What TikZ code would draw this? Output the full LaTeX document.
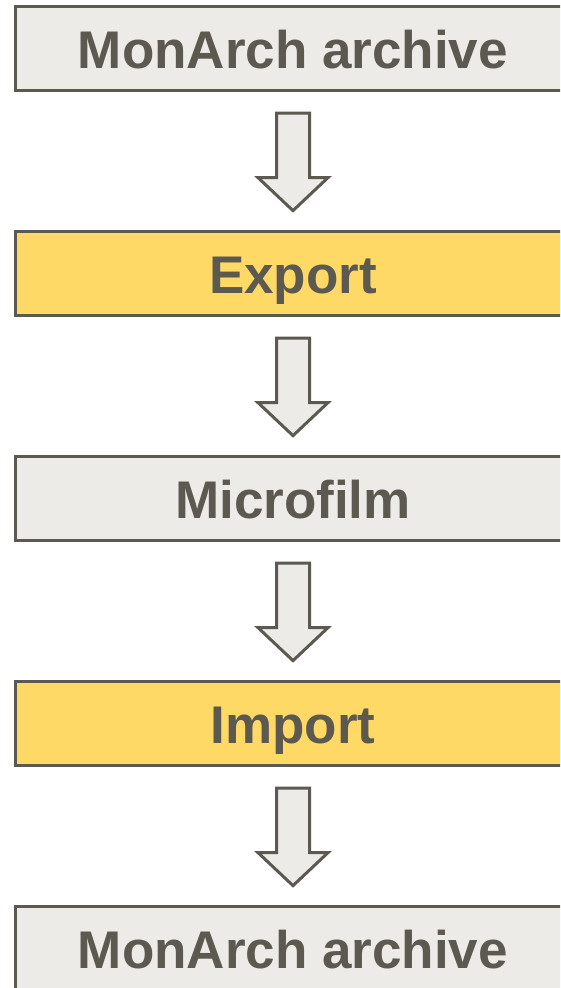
\documentclass[tikz,border=0pt]{standalone}
\usepackage{fontspec}
\setmainfont{Liberation Sans}
\usepackage{tikz}
\usetikzlibrary{positioning,calc}

\definecolor{boxgray}{HTML}{EDEBE8}
\definecolor{boxline}{HTML}{5B5950}
\definecolor{boxyellow}{HTML}{FFD966}

\tikzset{
  stepgray/.style={draw=boxline, line width=3pt, fill=boxgray, minimum width=556pt,
    minimum height=83.5pt, inner sep=0pt, outer sep=0pt, text=boxline,
    font=\fontsize{53}{60}\selectfont\bfseries, text height=41pt, text depth=0pt},
  stepyellow/.style={stepgray, fill=boxyellow},
  downarrow/.style={draw=boxline, line width=3pt, fill=boxgray, line join=miter}
}

\begin{document}
\begin{tikzpicture}[x=1pt,y=1pt,node distance=141.5pt]
    \useasboundingbox (0,0) rectangle (560,988);
    \clip (0,0) rectangle (560,988);
    % Draw boxes
    \node[stepgray] (archive) at (293,939.6) {MonArch archive};
    \node[stepyellow, below=of archive] (export) {Export};
    \node[stepgray, below=of export] (microfilm) {Microfilm};
    \node[stepyellow, below=of microfilm] (import) {Import};
    \node[stepgray, below=of import] (archiveback) {MonArch archive};

    % Draw block arrows between boxes
    \foreach \a/\b in {archive/export, export/microfilm, microfilm/import, import/archiveback} {
      \draw[downarrow] ($(\a.south)+(-16.5,-23)$) -- ++(33,0) -- ++(0,-64.5) -- ++(18.5,0)
        -- ($(\b.north)+(0,21)$) -- ++(-35,33) -- ++(18.5,0) -- cycle;
    }
\end{tikzpicture}
\end{document}
